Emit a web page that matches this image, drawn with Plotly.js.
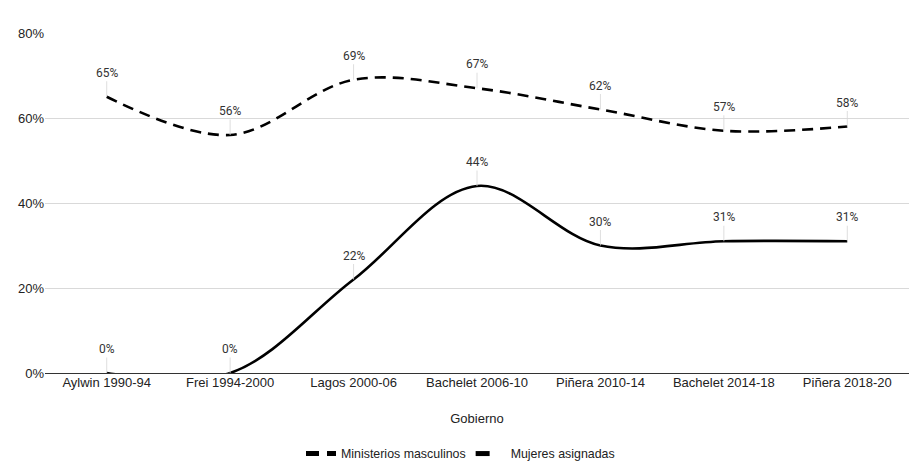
<!DOCTYPE html>
<html>
<head>
<meta charset="utf-8">
<script src="https://cdn.plot.ly/plotly-3.0.1.min.js"></script>
<style>html,body{margin:0;padding:0;background:#fff;}#chart{width:921px;height:469px;}</style>
</head>
<body>
<div id="chart"></div>
<script>
const categories = ["Aylwin 1990-94", "Frei 1994-2000", "Lagos 2000-06", "Bachelet 2006-10", "Piñera 2010-14", "Bachelet 2014-18", "Piñera 2018-20"];
const ministeriosMasculinos = [65, 56, 69, 67, 62, 57, 58];
const mujeresAsignadas = [0, 0, 22, 44, 30, 31, 31];
const seriesNames = ["Ministerios masculinos", "Mujeres asignadas"];
const yTickVals = [0, 20, 40, 60, 80];
const yTickText = ["0%", "20%", "40%", "60%", "80%"];

const axisFont = "'Liberation Sans', Arial, sans-serif";
const labelFont = "Roboto, Arial, sans-serif";

const traces = [
  {
    x: categories, y: ministeriosMasculinos, name: seriesNames[0],
    type: "scatter", mode: "lines", showlegend: false,
    line: {color: "#000000", width: 2.6, dash: "11px,7px", shape: "spline", smoothing: 1},
    hoverinfo: "skip"
  },
  {
    x: categories, y: mujeresAsignadas, name: seriesNames[1],
    type: "scatter", mode: "lines", showlegend: false,
    line: {color: "#000000", width: 2.6, shape: "spline", smoothing: 1},
    hoverinfo: "skip"
  },
  // legend-only entries (no data) to mimic the reference legend swatches
  {
    x: [null], y: [null], name: seriesNames[0], type: "scatter", mode: "lines",
    line: {color: "#000000", width: 5, dash: "13px,8px"}, hoverinfo: "skip"
  },
  {
    x: [null], y: [null], name: seriesNames[1], type: "scatter", mode: "lines",
    line: {color: "#000000", width: 5, dash: "14px,60px"}, hoverinfo: "skip"
  }
];

const annotations = [];
[ministeriosMasculinos, mujeresAsignadas].forEach(series => {
  series.forEach((v, i) => {
    annotations.push({
      x: categories[i], y: v, xref: "x", yref: "y",
      text: v + "%", showarrow: true, arrowhead: 0, arrowwidth: 0.8,
      arrowcolor: "#d6d6d6", ax: 0, ay: -24, standoff: 0,
      font: {family: labelFont, size: 12, color: "#333333"}
    });
  });
});

const layout = {
  width: 921, height: 469,
  margin: {l: 45, r: 12, t: 33, b: 96},
  paper_bgcolor: "#ffffff", plot_bgcolor: "#ffffff",
  font: {family: axisFont, size: 13, color: "#222222"},
  showlegend: true,
  legend: {
    orientation: "h", x: 0.5, xanchor: "center", xref: "container",
    y: 23, yref: "container", yanchor: "middle",
    font: {family: axisFont, size: 12.4, color: "#222222"},
    itemwidth: 30, tracegroupgap: 0
  },
  xaxis: {
    type: "category", range: [-0.5, 6.5],
    showgrid: false, zeroline: false, showline: false,
    ticks: "", tickfont: {family: axisFont, size: 13, color: "#222222"},
    title: {text: "Gobierno", font: {family: axisFont, size: 13, color: "#222222"}, standoff: 24}
  },
  yaxis: {
    range: [0, 80], tickvals: yTickVals, ticktext: yTickText,
    showgrid: true, gridcolor: "#d9d9d9", gridwidth: 1,
    zeroline: true, zerolinecolor: "#333333", zerolinewidth: 1,
    showline: false, ticks: "",
    tickfont: {family: axisFont, size: 13, color: "#222222"}
  },
  annotations: annotations
};

Plotly.newPlot("chart", traces, layout, {displayModeBar: false, staticPlot: true});
</script>
</body>
</html>
